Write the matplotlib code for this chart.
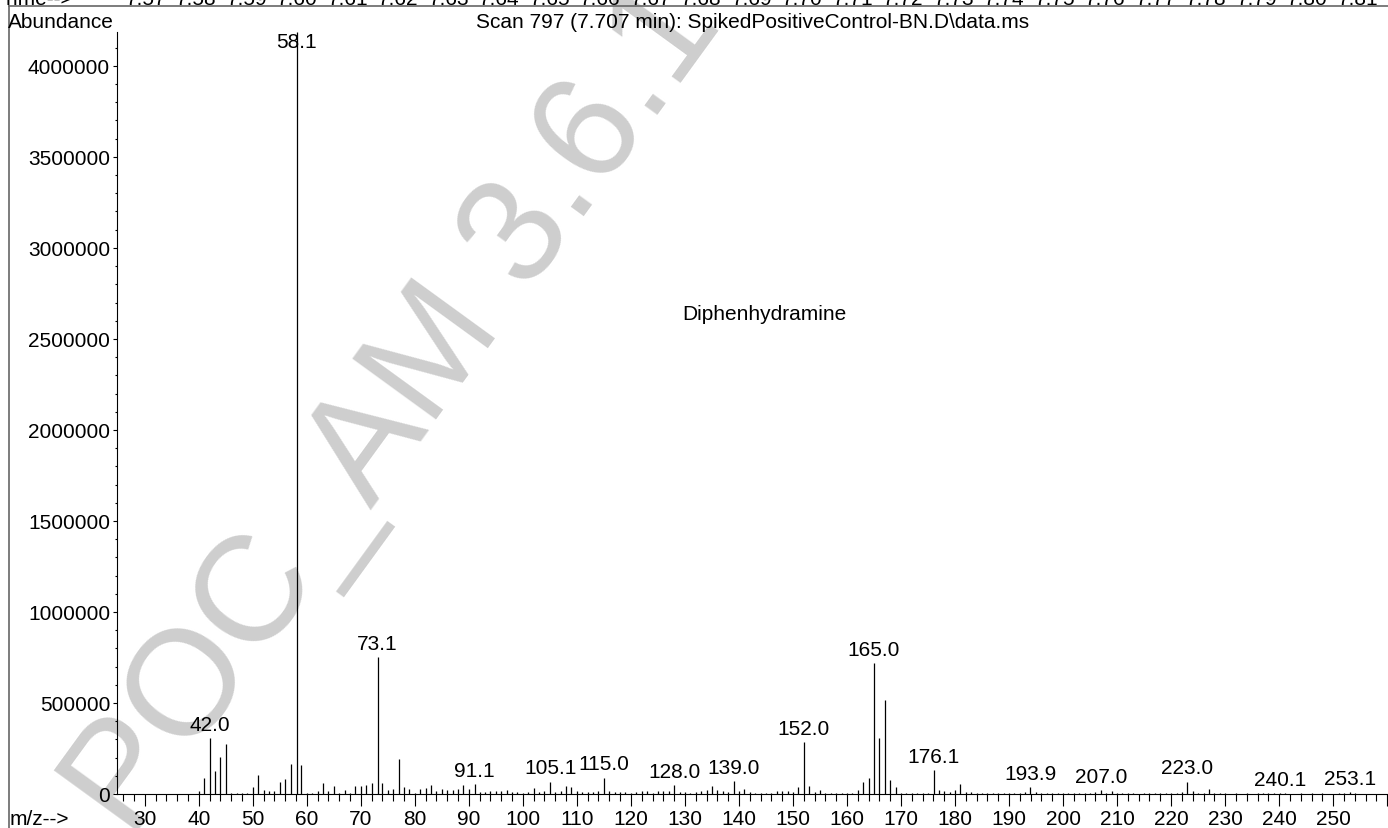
import matplotlib.pyplot as plt
from matplotlib.ticker import MultipleLocator
from matplotlib.lines import Line2D

plt.rcParams['font.family'] = ['Liberation Sans', 'DejaVu Sans']

# abundance for each integer m/z from 40 up to 257
mz_first = 40
abundance = [
    15000, 88000, 306000, 126000, 201000, 273000, 5000, 4000, 4000, 4000,        # 40
    37000, 106000, 22000, 16000, 15000, 66000, 82000, 163000, 4186000, 159000,  # 50
    6000, 4000, 15000, 62000, 16000, 44000, 7000, 20000, 7000, 46000,            # 60
    42000, 49000, 60000, 752000, 60000, 22000, 26000, 190000, 38000, 26000,      # 70
    7000, 26000, 35000, 49000, 18000, 27000, 22000, 20000, 26000, 48000,         # 80
    27000, 53000, 13000, 9000, 18000, 18000, 18000, 22000, 12000, 9000,          # 90
    5000, 9000, 31000, 12000, 14000, 68000, 9000, 18000, 42000, 37000,           # 100
    14000, 12000, 12000, 12000, 14000, 90000, 14000, 9000, 9000, 12000,          # 110
    5000, 12000, 18000, 18000, 5000, 18000, 18000, 18000, 50000, 9000,           # 120
    9000, 5000, 9000, 18000, 24000, 45000, 20000, 14000, 9000, 70000,            # 130
    14000, 26000, 9000, 6000, 5000, 6000, 7000, 14000, 14000, 14000,             # 140
    9000, 37000, 284000, 42000, 12000, 24000, 5000, 5000, 4000, 5000,            # 150
    4000, 5000, 20000, 68000, 88000, 720000, 306000, 518000, 77000, 40000,       # 160
    5000, 4000, 5000, 4000, 5000, 4000, 132000, 24000, 14000, 9000,              # 170
    20000, 57000, 9000, 9000, 5000, 4000, 5000, 4000, 4000, 3000,                # 180
    4000, 5000, 3000, 9000, 36000, 9000, 5000, 4000, 3000, 3000,                 # 190
    3000, 3000, 4000, 3000, 5000, 4000, 9000, 22000, 5000, 18000,                # 200
    3000, 3000, 3000, 3000, 2000, 3000, 3000, 4000, 3000, 3000,                  # 210
    3000, 5000, 9000, 68000, 18000, 7000, 5000, 27000, 5000, 4000,               # 220
    3000, 2000, 3000, 2000, 3000, 2000, 3000, 3000, 3000, 4000,                  # 230
    5000, 3000, 2000, 2000, 3000, 2000, 3000, 2000, 3000, 2000,                  # 240
    2000, 3000, 4000, 12000, 3000, 2000, 2000, 2000,                             # 250
]

peak_mz = [42.0, 58.1, 73.1, 91.1, 105.1, 115.0, 128.0, 139.0, 152.0,
           165.0, 176.1, 193.9, 207.0, 223.0, 240.1, 253.1]
peak_text = ['42.0', '58.1', '73.1', '91.1', '105.1', '115.0', '128.0', '139.0', '152.0',
             '165.0', '176.1', '193.9', '207.0', '223.0', '240.1', '253.1']

time_labels = ['7.57', '7.58', '7.59', '7.60', '7.61', '7.62', '7.63', '7.64', '7.65',
               '7.66', '7.67', '7.68', '7.69', '7.70', '7.71', '7.72', '7.73', '7.74',
               '7.75', '7.76', '7.77', '7.78', '7.79', '7.80', '7.81']

W, H = 1388, 829


def fx(x):
    return x / W


def fy(y):
    return 1 - y / H


mz = []
for i in range(len(abundance)):
    m = mz_first + i
    for p in peak_mz:
        if round(p) == m:
            m = p
    mz.append(m)

fig = plt.figure(figsize=(W / 100, H / 100), dpi=100)

# watermark behind everything
fig.text(fx(131), fy(840), 'POC_AM 3.6.1', fontsize=108, color='#cecece',
         rotation=54, rotation_mode='anchor', ha='left', va='baseline', zorder=-5)

ax = fig.add_axes([fx(117), fy(795), 1 - fx(117), (795 - 33) / H])
ax.set_facecolor('none')

ax.vlines(mz, 0, abundance, color='black', lw=0.9)

ymax = 4186000
ax.set_xlim(24.87, 260.15)
ax.set_ylim(0, ymax)

for p, t in zip(peak_mz, peak_text):
    h = abundance[round(p) - mz_first]
    if h >= ymax * 0.98:
        ax.text(p, ymax, t, ha='center', va='top', fontsize=15)
    else:
        ax.annotate(t, (p, h), xytext=(0, 3), textcoords='offset points',
                    ha='center', va='bottom', fontsize=15)

for s in ['top', 'right']:
    ax.spines[s].set_visible(False)
ax.spines['left'].set_linewidth(0.8)
ax.spines['bottom'].set_linewidth(0.8)

xt = list(range(30, 261, 10))
ax.set_xticks(xt, [str(v) if v <= 250 else '' for v in xt])
ax.xaxis.set_minor_locator(MultipleLocator(2))
ax.yaxis.set_major_locator(MultipleLocator(500000))
ax.yaxis.set_minor_locator(MultipleLocator(100000))
ax.ticklabel_format(axis='y', style='plain', useOffset=False)
ax.tick_params(axis='x', which='major', length=8.5, width=0.8, pad=2, labelsize=15)
ax.tick_params(axis='x', which='minor', length=4.8, width=0.8)
ax.tick_params(axis='y', which='major', length=3, width=0.8, pad=2, labelsize=15)
ax.tick_params(axis='y', which='minor', length=1.5, width=0.8)

# header texts
fig.text(fx(8), fy(28), 'Abundance', fontsize=15, ha='left', va='baseline')
fig.text(fx(753), fy(28), 'Scan 797 (7.707 min): SpikedPositiveControl-BN.D\\data.ms',
         fontsize=15, ha='center', va='baseline')
fig.text(fx(764), fy(320), 'Diphenhydramine', fontsize=15, ha='center', va='baseline')
fig.text(fx(10), fy(825), 'm/z-->', fontsize=15, ha='left', va='baseline')

# clipped time row of the chromatogram above
fig.text(fx(2), fy(5), 'Time-->', fontsize=15, ha='left', va='baseline')
for i, t in enumerate(time_labels):
    fig.text(fx(146 + i * 50.5), fy(5), t, fontsize=15, ha='center', va='baseline')

fig.add_artist(Line2D([fx(9), 1], [fy(7), fy(7)], color='#666666', lw=1.2))
fig.add_artist(Line2D([fx(9), fx(9)], [fy(7), 0], color='#666666', lw=1.2))

fig.savefig('out.png', dpi=100)
